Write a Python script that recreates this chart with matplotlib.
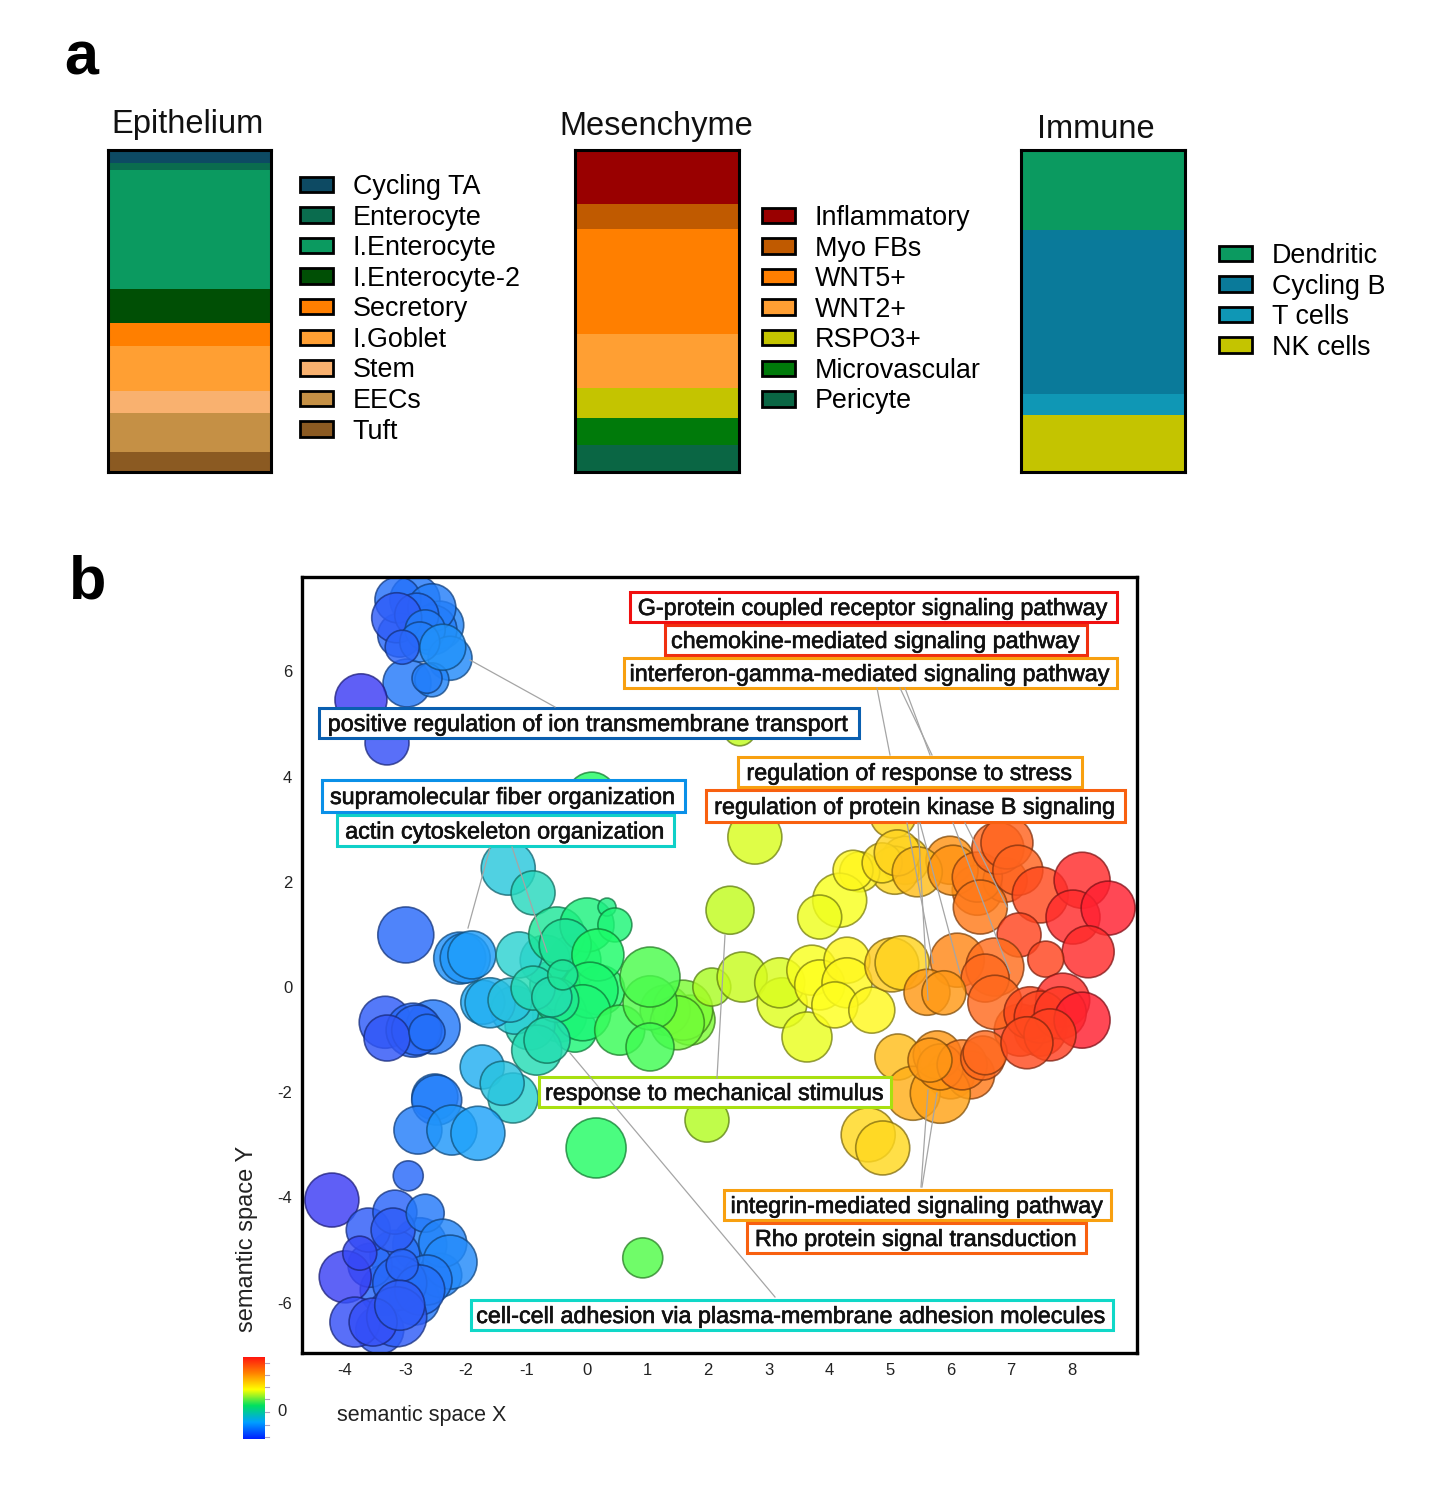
import numpy as np
import matplotlib
matplotlib.use('Agg')
import matplotlib.pyplot as plt
import matplotlib.patheffects as pe
from matplotlib.colors import LinearSegmentedColormap
from matplotlib.patches import Patch, Rectangle

plt.rcParams['font.family'] = ['Liberation Sans', 'DejaVu Sans']
plt.rcParams['axes.unicode_minus'] = False

# panel a, share of cells in percent
epi_names = ['Cycling TA', 'Enterocyte', 'I.Enterocyte', 'I.Enterocyte-2', 'Secretory', 'I.Goblet', 'Stem', 'EECs', 'Tuft']
epi_share = [4.0, 2.2, 37.0, 10.6, 7.1, 14.0, 6.8, 12.1, 6.2]
epi_colors = ['#0d4a63', '#0a6c4e', '#0b9a60', '#004f05', '#ff7f00', '#ff9f33', '#f9b16f', '#c59045', '#8b5a22']

mes_names = ['Inflammatory', 'Myo FBs', 'WNT5+', 'WNT2+', 'RSPO3+', 'Microvascular', 'Pericyte']
mes_share = [16.8, 7.8, 32.6, 16.8, 9.3, 8.4, 8.4]
mes_colors = ['#990000', '#c05a00', '#ff7f00', '#ff9f33', '#c4c400', '#007a0a', '#0a6644']

imm_names = ['Dendritic', 'Cycling B', 'T cells', 'NK cells']
imm_share = [24.8, 50.9, 6.5, 17.7]
imm_colors = ['#0b9a60', '#0a7a9a', '#0f97b5', '#c4c400']

# panel b, one entry per GO term
sem_x = [-2.84, -2.43, -2.56, -3.09,
         -2.76, -3.17, -2.84, -3.33, -3.58, -2.43, -3.42,
         -0.20, 0.21, -0.45, -0.53, -0.20, -0.69, -0.94, -1.19,
         1.70, 1.29, 7.48, 7.15, 5.25, 5.08, 5.99, 6.44, 6.90, 4.50, 6.00, 6.33,
         -3.12, -2.56, -2.81, -3.14, -2.67, -2.26, -2.97, -2.56, -2.64, -2.76, -3.05, -2.38, -3.73, -3.30,
         -2.99, -2.10, -2.01, -1.90, -1.30, -0.89,
         -1.12, -1.72, -1.60, -1.27, -0.50, 0.00, -0.36, 0.33, 0.46, 0.18, 0.05, -0.07, -0.50, -0.89, -0.58, -0.40, -0.83, -0.66, 0.54,
         1.58, 1.49, 1.04, 1.04, 1.04, 2.06, 2.56, 2.36, 2.77, 2.52, 0.08,
         -1.73, -1.22, -1.40, -2.51, -2.48, -2.79, -2.23, -1.80, 0.15, 0.92, 1.98,
         -3.33, -2.54, -2.87, -2.81, -3.30, -2.64,
         -4.21, -2.95, -3.61, -3.17, -3.20, -2.67, -2.38, -2.26, -2.64, -3.09, -2.76, -3.99, -3.75, -3.05, -3.83, -3.14, -3.53, -3.09,
         3.22, 3.18, 3.63, 3.71, 3.84, 4.29, 4.29, 4.09, 4.70, 5.03, 5.20,
         4.17, 3.84, 4.39, 4.87, 5.05, 5.12, 5.45, 6.04, 6.44, 6.49, 6.78, 6.93, 7.11, 7.48, 8.17, 8.02, 8.60, 8.27, 7.13, 7.57, 6.11, 6.73, 6.57, 6.73, 5.61, 5.89,
         5.13, 5.38, 5.83, 5.78, 5.83, 6.19, 6.53, 6.57, 5.66, 4.64, 4.88,
         7.31, 7.85, 7.48, 7.81, 8.17, 7.64, 7.26]
sem_y = [7.36, 6.88, 6.79, 6.69,
         -4.90, -5.10, -5.95, -5.76, -5.29, -5.48, -6.52,
         0.51, -0.06, -0.53, 0.04, -0.82, 0.51, -0.72, -0.44,
         -0.63, -0.44, -0.82, -0.82, 2.41, 2.22, 2.41, 1.84, 2.03, 2.19, -1.67, -1.67,
         7.36, 7.21, 7.07, 7.02, 6.79, 6.25, 5.78, 5.84, 5.87, 6.56, 6.46, 6.46, 5.46, 4.64,
         0.99, 0.55, 0.55, 0.61, 2.26, 1.79,
         0.61, -0.29, -0.30, -0.25, 0.99, 1.18, 0.80, 1.52, 1.18, 0.61, -0.06, -0.49, -0.25, -0.02, -0.19, 0.23, -1.20, -1.01, -0.82,
         -0.44, -0.68, -0.30, 0.19, -1.14, 0.00, 0.19, 1.46, 2.85, 4.89, 3.61,
         -1.52, -2.11, -1.83, -2.09, -2.15, -2.72, -2.72, -2.78, -3.06, -5.15, -2.53,
         -0.67, -0.76, -0.82, -0.82, -0.97, -0.86,
         -4.05, -3.59, -4.62, -4.28, -4.62, -4.30, -4.87, -5.23, -5.57, -5.63, -5.76, -5.51, -5.06, -5.29, -6.37, -6.27, -6.37, -6.05,
         -0.30, 0.08, -0.95, 0.32, 0.04, 0.51, 0.08, -0.34, -0.44, 0.42, 0.46,
         1.65, 1.33, 2.22, 2.36, 3.27, 2.55, 2.19, 2.22, 2.09, 1.52, 2.64, 2.74, 2.22, 1.75, 2.03, 1.33, 1.50, 0.67, 0.99, 0.53, 0.51, 0.38, 0.17, -0.29, -0.10, -0.11,
         -1.33, -2.02, -2.02, -1.29, -1.52, -1.48, -1.35, -1.25, -1.39, -2.81, -3.06,
         -0.49, -0.25, -0.57, -0.49, -0.63, -0.91, -1.06]
log_size = [2.5, 2.4, 2.5, 2.2,
            2.7, 2.5, 2.5, 2.5, 2.2, 2.2, 2.4,
            2.6, 2.5, 2.7, 2.5, 2.2, 2.5, 2.5, 2.4,
            2.5, 2.5, 2.6, 2.6, 2.4, 2.4, 2.4, 2.5, 2.2, 2.0, 2.4, 2.4,
            2.3, 2.4, 2.2, 2.5, 2.0, 2.2, 2.4, 1.7, 1.5, 2.0, 1.7, 2.3, 2.6, 2.2,
            2.8, 2.6, 2.5, 2.4, 2.7, 2.2,
            2.3, 2.2, 2.5, 2.2, 2.8, 2.7, 2.6, 0.9, 1.7, 2.6, 2.8, 2.8, 2.2, 2.2, 2.0, 1.5, 2.5, 2.3, 2.5,
            3.0, 2.7, 2.7, 3.0, 2.4, 1.9, 2.5, 2.4, 2.7, 1.6, 2.5,
            2.2, 2.5, 2.2, 2.3, 2.5, 2.4, 2.5, 2.7, 3.0, 2.0, 2.2,
            2.6, 2.7, 2.7, 2.5, 2.3, 1.8,
            2.7, 1.5, 2.2, 2.2, 2.2, 1.9, 2.4, 2.7, 2.5, 2.7, 2.5, 2.6, 1.7, 1.6, 2.5, 3.0, 2.4, 2.5,
            2.5, 2.5, 2.5, 2.5, 2.5, 2.3, 2.5, 2.3, 2.3, 2.7, 2.7,
            2.7, 2.2, 2.0, 2.0, 2.3, 2.3, 2.5, 2.5, 2.5, 2.7, 2.6, 2.6, 2.5, 2.8, 2.8, 2.7, 2.7, 2.6, 2.2, 1.8, 2.7, 2.9, 2.4, 2.7, 2.3, 2.2,
            2.3, 2.7, 3.0, 2.4, 2.3, 2.5, 2.2, 2.2, 2.2, 2.7, 2.7,
            2.6, 2.7, 2.6, 2.6, 2.8, 2.6, 2.6]
term_value = [0.09, 0.11, 0.10, 0.07,
              0.10, 0.08, 0.09, 0.07, 0.07, 0.11, 0.05,
              0.35, 0.40, 0.36, 0.34, 0.38, 0.30, 0.29, 0.24,
              0.50, 0.48, 0.93, 0.92, 0.71, 0.70, 0.80, 0.84, 0.87, 0.66, 0.82, 0.84,
              0.08, 0.10, 0.08, 0.05, 0.10, 0.12, 0.09, 0.11, 0.10, 0.10, 0.06, 0.13, 0.00, 0.03,
              0.07, 0.13, 0.14, 0.15, 0.23, 0.28,
              0.25, 0.17, 0.18, 0.22, 0.33, 0.37, 0.33, 0.36, 0.38, 0.40, 0.39, 0.38, 0.34, 0.29, 0.30, 0.33, 0.29, 0.30, 0.43,
              0.50, 0.49, 0.46, 0.45, 0.44, 0.54, 0.57, 0.56, 0.59, 0.56, 0.41,
              0.18, 0.25, 0.22, 0.11, 0.10, 0.10, 0.14, 0.16, 0.41, 0.46, 0.55,
              0.05, 0.09, 0.07, 0.07, 0.04, 0.08,
              0.00, 0.07, 0.05, 0.06, 0.05, 0.09, 0.11, 0.12, 0.10, 0.07, 0.08, 0.01, 0.02, 0.06, 0.03, 0.05, 0.03, 0.05,
              0.60, 0.59, 0.61, 0.63, 0.64, 0.65, 0.65, 0.64, 0.65, 0.72, 0.71,
              0.63, 0.62, 0.65, 0.68, 0.70, 0.71, 0.74, 0.80, 0.84, 0.84, 0.87, 0.88, 0.88, 0.92, 0.98, 0.98, 1.00, 0.98, 0.93, 0.93, 0.82, 0.86, 0.87, 0.87, 0.79, 0.79,
              0.74, 0.76, 0.78, 0.79, 0.80, 0.84, 0.87, 0.87, 0.79, 0.70, 0.70,
              0.92, 0.97, 0.93, 0.95, 1.00, 0.94, 0.92]

x_ticks = [-4, -3, -2, -1, 0, 1, 2, 3, 4, 5, 6, 7, 8]
y_ticks = [-6, -4, -2, 0, 2, 4, 6]

term_labels = ['G-protein coupled receptor signaling pathway', 'chemokine-mediated signaling pathway',
               'interferon-gamma-mediated signaling pathway', 'positive regulation of ion transmembrane transport',
               'regulation of response to stress', 'regulation of protein kinase B signaling',
               'supramolecular fiber organization', 'actin cytoskeleton organization',
               'response to mechanical stimulus', 'integrin-mediated signaling pathway',
               'Rho protein signal transduction', 'cell-cell adhesion via plasma-membrane adhesion molecules']

W, H = 1440, 1486
fig = plt.figure(figsize=(W / 100, H / 100), dpi=100)


def px_axes(x0, y0, x1, y1):
    return fig.add_axes([x0 / W, 1 - y1 / H, (x1 - x0) / W, (y1 - y0) / H])


def stacked(box, share, colors, names, legend_xy):
    ax = px_axes(*box)
    bottom = 0
    for s, c in zip(share, colors):
        ax.bar(0, s, bottom=bottom, width=1, color=c)
        bottom += s
    ax.set_xlim(-0.5, 0.5)
    ax.set_ylim(bottom, 0)
    ax.set_xticks([])
    ax.set_yticks([])
    for sp in ax.spines.values():
        sp.set_linewidth(2.2)
    handles = [Patch(facecolor=c, edgecolor='black', linewidth=2, label=n) for c, n in zip(colors, names)]
    fig.legend(handles=handles, loc='upper left', bbox_to_anchor=(legend_xy[0] / W, 1 - legend_xy[1] / H),
               frameon=False, fontsize=19.4, borderpad=0, borderaxespad=0, handlelength=1.22, handleheight=0.5,
               handletextpad=0.73, labelspacing=0.17)


stacked((108, 150, 271, 472), epi_share, epi_colors, epi_names, (300, 174))
stacked((575, 150, 739, 472), mes_share, mes_colors, mes_names, (762, 205))
stacked((1021, 150, 1185, 472), imm_share, imm_colors, imm_names, (1219, 243))

# panel b
bubble_cmap = LinearSegmentedColormap.from_list('bubbles', [
    (0.00, '#3c3cf5'), (0.08, '#2472fa'), (0.16, '#1fa5fa'), (0.25, '#2cd2d2'), (0.32, '#1fe3a0'),
    (0.40, '#1cfc68'), (0.48, '#64fc3c'), (0.56, '#c0fc1e'), (0.64, '#ffff1e'), (0.72, '#ffcc1e'),
    (0.80, '#ff9414'), (0.87, '#ff6a1e'), (0.93, '#ff461e'), (1.00, '#ff2030')])

ax = px_axes(302, 577, 1137, 1353)
rgba = bubble_cmap(np.array(term_value))
face = rgba.copy()
face[:, 3] = 0.82
edge = rgba.copy()
edge[:, :3] = edge[:, :3] * 0.5
edge[:, 3] = 0.75
ax.scatter(sem_x, sem_y, s=(np.array(log_size) * 14.4) ** 2, c=face, edgecolors=edge, linewidths=1.2)
ax.set_xlim(-4.703, 9.076)
ax.set_ylim(-6.958, 7.795)
ax.set_xticks(x_ticks)
ax.set_yticks(y_ticks)
ax.tick_params(length=0, labelsize=12, pad=7, labelcolor='#222222')
for sp in ax.spines.values():
    sp.set_linewidth(2.4)

# colour bar
cax = px_axes(243, 1357, 265, 1439)
cbar_cmap = LinearSegmentedColormap.from_list('cbar', ['#0020ff', '#00a0ff', '#00e060', '#ffff00', '#ff8000', '#ff1010'])
cax.imshow(np.linspace(1, 0, 128)[:, None], aspect='auto', cmap=cbar_cmap)
cax.axis('off')

# page level text, boxes and connectors in pixel coordinates
over = fig.add_axes([0, 0, 1, 1], zorder=10)
over.set_xlim(0, W)
over.set_ylim(H, 0)
over.axis('off')
over.patch.set_alpha(0)

over.text(81, 59, 'a', fontsize=44, fontweight='bold', ha='center', va='center')
over.text(88, 583, 'b', fontsize=44, fontweight='bold', ha='center', va='center')
over.text(188, 124, 'Epithelium', fontsize=23.5, ha='center', va='center', color='#111111')
over.text(656, 126, 'Mesenchyme', fontsize=23.5, ha='center', va='center', color='#111111')
over.text(1096, 129, 'Immune', fontsize=23.5, ha='center', va='center', color='#111111')
over.text(422, 1415, 'semantic space X', fontsize=15.5, ha='center', va='center', color='#222222')
over.text(247, 1239, 'semantic space Y', fontsize=17, rotation=90, ha='center', va='center', color='#222222')
over.text(282, 1411, '0', fontsize=12, ha='center', va='center', color='#222222')
for yy in [1363, 1375, 1387, 1399, 1412, 1425, 1437]:
    over.plot([265, 269], [yy, yy], color='#b0a0c0', lw=0.8)

links = [((470, 660), (555, 707)), ((490, 848), (468, 928)), ((512, 847), (547, 952)), ((570, 1053), (775, 1297)),
         ((725, 935), (717, 1078)), ((877, 688), (890, 755)), ((900, 688), (932, 755)), ((905, 688), (930, 755)),
         ((907, 823), (933, 963)), ((920, 823), (960, 973)), ((953, 823), (1010, 973)), ((965, 823), (1007, 907)),
         ((918, 823), (928, 1000)), ((922, 1187), (937, 1093)), ((921, 1187), (928, 1090))]
for a, b in links:
    over.plot([a[0], b[0]], [a[1], b[1]], color='#a5a5a5', lw=0.9)

boxes = [(630, 592, 1117, 622, '#f01010'), (665, 625, 1087, 655, '#f03010'), (624, 658, 1117, 688, '#f8a010'),
         (319, 708, 859, 738, '#0a5fb0'), (738, 757, 1082, 787, '#f8a010'), (706, 790, 1125, 822, '#f86010'),
         (322, 780, 685, 812, '#0a90e8'), (337, 815, 674, 846, '#10d0c8'), (539, 1077, 891, 1107, '#a8e010'),
         (724, 1190, 1111, 1220, '#f8a010'), (747, 1223, 1086, 1253, '#f86010'), (471, 1300, 1113, 1330, '#10d8c8')]
for label, (x0, y0, x1, y1, col) in zip(term_labels, boxes):
    over.add_patch(Rectangle((x0, y0), x1 - x0, y1 - y0, facecolor='white', edgecolor=col, linewidth=2.2))
    over.text((x0 + x1) / 2, (y0 + y1) / 2 - 1, label, fontsize=16.8, ha='center', va='center_baseline', color='#111111',
              path_effects=[pe.withStroke(linewidth=0.45, foreground='#111111')])

fig.savefig('out.png', dpi=100)
